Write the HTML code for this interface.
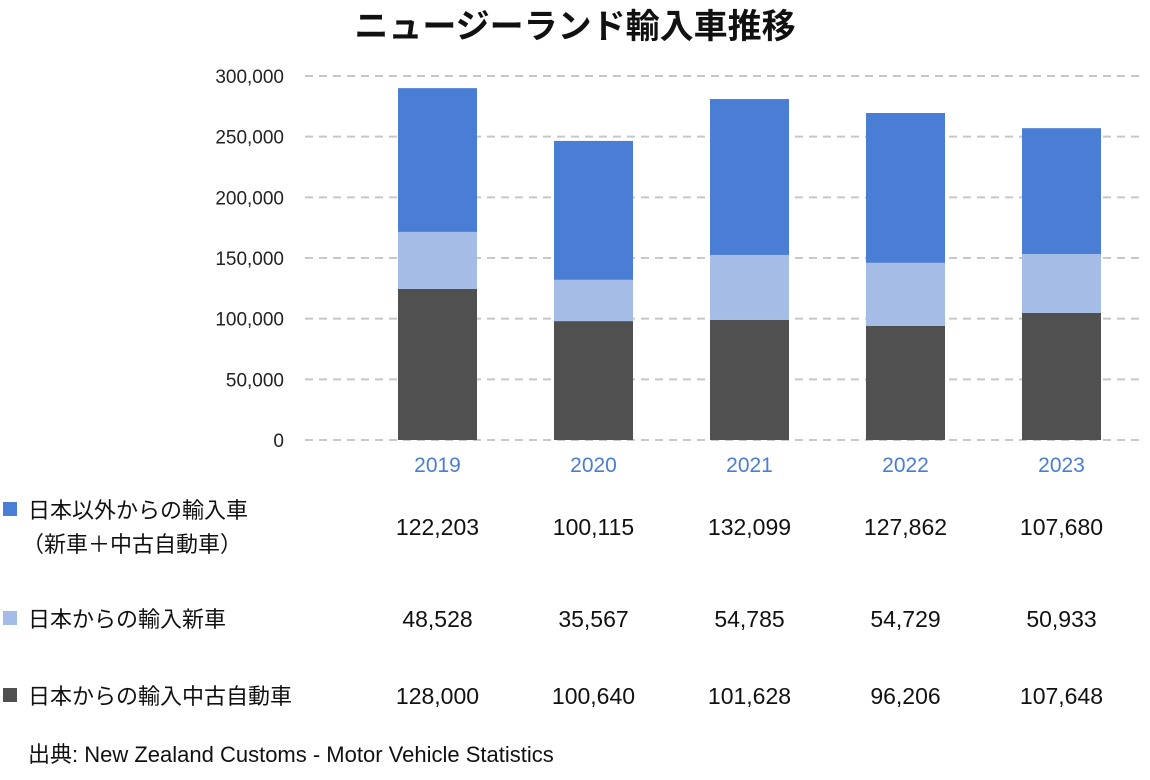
<!DOCTYPE html>
<html><head><meta charset="utf-8">
<style>
body{margin:0;width:1150px;height:775px;background:#fff;font-family:"Liberation Sans","Noto Sans CJK JP",sans-serif;overflow:hidden}
svg text{font-family:"Liberation Sans","Noto Sans CJK JP",sans-serif}
</style></head><body>
<svg id="chart" width="1150" height="775" xmlns="http://www.w3.org/2000/svg">
<text x="575" y="38" text-anchor="middle" font-size="34" font-weight="bold" fill="#111">ニュージーランド輸入車推移</text>
<g id="grid"></g><g id="bars"></g><g id="table"></g>
<rect x="3" y="502" width="14" height="14" fill="#4a7dd4"/>
<text x="28" y="518" font-size="22" fill="#111">日本以外からの輸入車</text>
<text x="22" y="552" font-size="22" fill="#111">（新車＋中古自動車）</text>
<rect x="3" y="611" width="14" height="14" fill="#a4bce6"/>
<text x="28" y="627" font-size="22" fill="#111">日本からの輸入新車</text>
<rect x="3" y="688" width="14" height="14" fill="#505050"/>
<text x="28" y="704" font-size="22" fill="#111">日本からの輸入中古自動車</text>
<text x="28" y="762" font-size="22" fill="#111">出典: New Zealand Customs - Motor Vehicle Statistics</text>
</svg>
<script>
const years=["2019","2020","2021","2022","2023"];
const barUsed=[124500,98000,99000,94000,104700];
const barNew=[47000,34000,53500,52000,48600];
const barOther=[118500,114500,128500,123500,103700];
const tblOther=["122,203","100,115","132,099","127,862","107,680"];
const tblNew=["48,528","35,567","54,785","54,729","50,933"];
const tblUsed=["128,000","100,640","101,628","96,206","107,648"];
const ticks=[0,50000,100000,150000,200000,250000,300000];
const NS="http://www.w3.org/2000/svg";
const y0=440,yTop=76,vmax=300000;
const y=v=>y0-(v/vmax)*(y0-yTop);
const x=i=>437.5+156*i;
const bw=79;
function mk(t,a,p){const e=document.createElementNS(NS,t);for(const k in a)e.setAttribute(k,a[k]);p.appendChild(e);return e;}
const grid=document.getElementById('grid'),bars=document.getElementById('bars'),tbl=document.getElementById('table');
ticks.forEach(t=>{
 const l=mk('line',{x1:305,x2:1145,y1:y(t),y2:y(t),stroke:'#c8c8c8','stroke-width':2,'stroke-dasharray':'8,6'},grid);
 
 
 const tx=mk('text',{x:284,y:y(t)+7,'text-anchor':'end','font-size':19,fill:'#222'},grid);
 tx.textContent=t.toLocaleString('en-US');
 
 
});
years.forEach((yr,i)=>{
 const segs=[[barUsed[i],'#505050','bar-used-'],[barNew[i],'#a4bce6','bar-new-'],[barOther[i],'#4a7dd4','bar-other-']];
 let acc=0;
 segs.forEach(s=>{
  const r=mk('rect',{x:x(i)-bw/2,y:y(acc+s[0]),width:bw,height:y(acc)-y(acc+s[0]),fill:s[1]},bars);
  
  
  acc+=s[0];
 });
 const lb=mk('text',{x:x(i),y:472,'text-anchor':'middle','font-size':21,fill:'#4a7dd4'},bars);
 lb.textContent=yr;
 
 
 [[tblOther,535,'value-other'],[tblNew,627,'value-new'],[tblUsed,704,'value-used']].forEach(r=>{
  const t=mk('text',{x:x(i),y:r[1],'text-anchor':'middle','font-size':23,fill:'#111'},tbl);
  t.textContent=r[0][i];
  
  
 });
});
</script>
</body></html>
